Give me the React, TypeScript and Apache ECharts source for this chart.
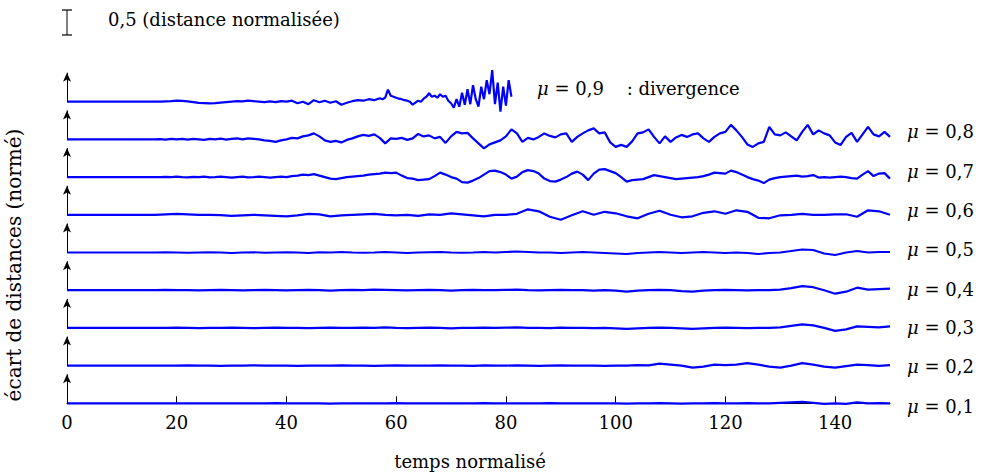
import React, { useEffect, useRef } from "react";
import * as echarts from "echarts";

// ---------- data (normalised distance, 1 unit = scale bar x2) ----------
const X_TICKS = [0, 20, 40, 60, 80, 100, 120, 140];
const X_MINOR_TICKS = [20, 40, 60, 80, 100, 120, 140];
const MU_LABELS = ["0,1", "0,2", "0,3", "0,4", "0,5", "0,6", "0,7", "0,8"];
const BASELINES = [0, 0.754, 1.508, 2.262, 3.016, 3.77, 4.524, 5.278, 6.032];
const SCALE_BAR_BOTTOM = 7.366;
const SCALE_BAR_LEN = 0.5;
const ARROW_LEN = 0.58;

// mu = 0,9 : t = 0..57 step 1, then explicit points (divergence)
const MU09_A = [
  0, 0, 0, 0, 0, 0, 0, 0, 0, 0, 0, 0, 0, 0, 0, 0, 0, 0,
  0.005, 0.01, 0.02, 0.015, 0.005, -0.01, -0.025, -0.03, -0.035, -0.03,
  -0.02, -0.01, 0.0, 0.01, 0.005, 0.02, 0.01, 0.0, -0.01, 0.005,
  -0.01, 0.01, 0.0, 0.02, -0.03, 0.0, -0.05, 0.03, -0.01, 0.02,
  -0.02, 0.01, -0.06, -0.02, 0.01, 0.03, 0.02, 0.05, 0.03, 0.07,
];
const MU09_B: [number, number][] = [
  [57.5, 0.05], [58, 0.08], [58.5, 0.24], [59, 0.12], [59.5, 0.1], [60, 0.08],
  [60.5, 0.06], [61, 0.05], [61.5, 0.03], [62, 0.02], [62.5, 0.0], [63, -0.06],
  [63.5, -0.02], [64, 0.02], [64.5, 0.0], [65, 0.06], [65.5, 0.1], [66, 0.17],
  [66.5, 0.1], [67, 0.12], [67.5, 0.08], [68, 0.15], [68.5, 0.1], [69, 0.12],
  [69.5, 0.02], [70, -0.03], [70.5, -0.12], [71, 0.05], [71.5, -0.1], [72, 0.18],
  [72.5, -0.06], [73, 0.25], [73.5, -0.05], [74, 0.33], [74.5, 0.05], [75, -0.1],
  [75.5, 0.3], [76, 0.05], [76.5, 0.43], [77, 0.15], [77.5, 0.63], [78, -0.05],
  [78.5, 0.38], [79, -0.2], [79.5, 0.3], [80, -0.08], [80.5, 0.43], [81, 0.1],
];

// t = 0..150 step 1
const MU08 = [
  0, 0, 0, 0, 0, 0, 0, 0, 0, 0, 0, 0, 0, 0, 0, 0, 0,
  0.005, -0.005, 0.01, 0.0, 0.01, -0.005, 0.01, 0.0, -0.01, 0.01, 0.0, 0.015,
  -0.005, 0.01, 0.02, 0.0, 0.02, 0.01, 0.0, -0.02, -0.03, -0.05, -0.02, 0.0,
  0.03, 0.02, 0.06, 0.08, 0.12, 0.06, -0.02, -0.05, -0.03, -0.06, -0.01, 0.02,
  0.06, 0.09, 0.07, 0.1, 0.03, -0.08, 0.02, 0.01, 0.03, -0.01, 0.02, 0.11,
  0.06, 0.08, 0.02, 0.05, -0.07, 0.06, 0.15, 0.12, 0.13, 0.02, -0.08, -0.18,
  -0.1, -0.06, -0.02, 0.06, 0.2, 0.12, -0.05, 0.03, 0.0, 0.05, 0.12, 0.07,
  0.04, 0.1, 0.12, -0.05, 0.05, 0.12, 0.18, 0.22, 0.12, 0.14, -0.06, -0.15,
  -0.11, -0.15, -0.04, 0.12, 0.14, 0.2, 0.05, -0.08, 0.06, -0.05, 0.04, 0.09,
  0.05, 0.1, 0.12, 0.02, -0.05, 0.05, 0.12, 0.15, 0.29, 0.18, 0.05, -0.1,
  -0.15, -0.08, -0.05, 0.25, 0.1, 0.08, 0.14, 0.06, -0.02, 0.15, 0.29, 0.1,
  0.18, 0.12, 0.08, -0.06, -0.11, 0.05, 0.13, -0.05, 0.1, 0.25, 0.1, 0.06,
  0.15, 0.05,
];

// t = 0..150 step 1
const MU07 = [
  0, 0, 0, 0, 0, 0, 0, 0, 0, 0, 0, 0, 0, 0, 0, 0, 0,
  0.0, 0.005, 0.0, 0.01, 0.0, -0.005, 0.005, 0.0, 0.01, -0.005, 0.0, 0.01,
  0.0, -0.01, 0.0, 0.01, -0.005, 0.0, 0.01, 0.0, -0.01, 0.0, 0.01, 0.0,
  0.02, 0.03, 0.05, 0.04, 0.06, 0.03, 0.0, -0.03, -0.04, -0.02, 0.0, 0.01,
  0.02, 0.03, 0.05, 0.06, 0.07, 0.09, 0.08, 0.09, 0.03, -0.02, -0.03, -0.06,
  -0.05, -0.04, 0.02, 0.09, 0.05, 0.0, -0.03, -0.1, -0.11, -0.07, -0.02, 0.05,
  0.12, 0.13, 0.1, 0.05, -0.03, 0.01, 0.1, 0.14, 0.12, 0.07, -0.03, -0.08,
  -0.09, -0.05, 0.0, 0.07, 0.11, 0.05, -0.06, 0.07, 0.15, 0.16, 0.12, 0.08,
  0.0, -0.09, -0.06, -0.05, -0.04, 0.0, 0.04, 0.02, 0.0, -0.02, -0.04, -0.03,
  -0.02, -0.01, 0.0, 0.02, 0.05, 0.09, 0.08, 0.07, 0.13, 0.1, 0.05, 0.0,
  -0.04, -0.07, -0.12, -0.05, -0.02, 0.0, 0.01, 0.02, 0.03, 0.01, 0.02, 0.04,
  -0.01, 0.0, -0.01, 0.0, 0.01, 0.0, -0.02, -0.03, 0.05, 0.12, 0.02, 0.07,
  0.08, -0.03,
];

// t = 0..150 step 2
const MU06 = [
  0, 0, 0, 0, 0, 0, 0, 0, 0, 0.01, 0.02, 0.01, 0.0, 0.0, -0.005, -0.02,
  -0.01, 0.0, -0.01, -0.02, -0.03, -0.01, 0.02, 0.01, -0.03, -0.01, 0.0, 0.01,
  0.02, 0.0, -0.01, 0.0, -0.02, 0.01, 0.0, 0.03, 0.01, -0.01, -0.03, 0.0,
  0.0, 0.02, 0.11, 0.07, -0.04, -0.1, -0.01, 0.07, 0.0, 0.06, 0.03, -0.03,
  -0.07, 0.02, 0.08, 0.0, -0.05, -0.03, 0.04, 0.07, 0.02, 0.09, 0.06, -0.06,
  -0.07, -0.01, 0.0, 0.02, 0.0, 0.0, 0.01, 0.01, -0.04, 0.09, 0.07, 0.0,
];
const MU05 = [
  0, 0, 0, 0, 0, 0, 0, 0, 0, 0.005, 0.0, -0.005, 0.0, 0.005, 0.0, -0.01,
  0.0, 0.005, -0.005, 0.0, 0.005, 0.0, -0.01, 0.005, 0.0, 0.01, 0.0, -0.005,
  0.0, 0.01, 0.0, -0.01, 0.0, 0.005, 0.01, 0.0, -0.005, 0.0, 0.01, 0.0,
  0.01, 0.02, 0.01, 0.0, 0.0, -0.01, 0.0, 0.01, 0.0, -0.01, -0.02, -0.03,
  -0.01, 0.0, 0.01, 0.0, -0.01, 0.0, 0.01, 0.0, -0.01, 0.0, -0.01, -0.03,
  -0.01, 0.0, 0.03, 0.06, 0.05, -0.02, -0.05, 0.0, 0.03, 0.0, 0.01, 0.01,
];
const MU04 = [
  0, 0, 0, 0, 0, 0, 0, 0, 0, 0.005, 0.0, 0.0, -0.005, 0.0, 0.005, 0.0,
  -0.005, 0.0, 0.005, 0.0, -0.005, 0.0, 0.005, 0.0, -0.01, 0.0, 0.005, 0.0,
  0.01, 0.005, 0.0, -0.005, 0.0, 0.005, 0.0, -0.01, 0.0, 0.005, 0.0, 0.0,
  0.005, 0.01, 0.0, -0.005, 0.0, 0.005, 0.0, 0.0, -0.01, 0.0, -0.01, -0.03,
  -0.01, 0.0, 0.005, 0.0, -0.02, -0.03, -0.01, 0.0, 0.005, 0.0, -0.005, 0.0,
  0.0, 0.01, 0.04, 0.08, 0.06, 0.0, -0.07, -0.03, 0.05, 0.01, 0.02, 0.03,
];
const MU03 = [
  0, 0, 0, 0, 0, 0, 0, 0, 0, 0.0, 0.005, 0.0, -0.005, 0.0, 0.0, 0.005,
  0.0, -0.005, 0.0, 0.005, 0.0, 0.0, -0.005, 0.0, 0.005, 0.0, 0.0, 0.005,
  0.0, 0.01, 0.0, -0.005, 0.0, 0.005, 0.0, -0.01, 0.0, 0.0, 0.005, 0.0,
  0.005, 0.01, 0.0, 0.0, -0.005, 0.005, 0.0, 0.0, -0.005, 0.0, -0.01, -0.02,
  -0.01, 0.0, 0.005, 0.0, -0.01, -0.02, -0.01, 0.0, 0.005, 0.0, -0.005, 0.0,
  0.0, 0.01, 0.04, 0.07, 0.05, 0.0, -0.06, -0.03, 0.03, 0.02, 0.01, 0.03,
];
const MU02 = [
  0, 0, 0, 0, 0, 0, 0, 0, 0, 0.0, 0.0, 0.005, 0.0, 0.0, -0.005, 0.0,
  0.0, 0.005, 0.0, 0.0, 0.0, -0.005, 0.0, 0.0, 0.0, 0.005, 0.0, 0.0,
  -0.005, 0.0, 0.005, 0.0, 0.0, 0.0, 0.005, 0.0, 0.0, -0.005, 0.005, 0.0,
  0.0, 0.005, 0.0, -0.005, 0.0, 0.005, 0.0, 0.0, 0.0, -0.005, 0.0, 0.0,
  0.01, 0.005, 0.04, 0.02, 0.0, -0.04, -0.02, 0.02, 0.01, 0.02, 0.05, 0.02,
  -0.02, -0.04, 0.0, 0.05, 0.02, -0.02, -0.04, -0.01, 0.02, 0.01, -0.005, 0.01,
];
const MU01 = [
  0, 0, 0, 0, 0, 0, 0, 0, 0, 0.0, 0.0, 0.0, 0.0, 0.0, 0.0, 0.0,
  0.0, 0.0, 0.0, 0.005, 0.0, 0.0, 0.0, 0.0, -0.005, 0.0, 0.0, 0.0,
  0.0, 0.0, 0.005, 0.0, 0.0, 0.0, 0.0, 0.0, 0.0, 0.0, 0.005, 0.0,
  0.0, 0.0, 0.0, 0.0, 0.005, 0.0, 0.0, 0.0, 0.0, 0.0, 0.0, -0.005,
  0.0, 0.0, 0.005, 0.0, -0.005, 0.0, 0.0, 0.005, 0.0, 0.0, 0.005, 0.0,
  0.0, 0.01, 0.02, 0.03, 0.01, -0.01, 0.0, -0.01, 0.02, 0.0, 0.005, 0.0,
];

const FONT = "DejaVu Serif";
const BLUE = "#0000ff";

function stepSeries(vals: number[], step: number, base: number): [number, number][] {
  return vals.map((v, i) => [i * step, base + v]);
}

export default function App() {
  const ref = useRef<HTMLDivElement>(null);
  useEffect(() => {
    if (!ref.current) return;
    const chart = echarts.init(ref.current, null, { renderer: "svg" });

    const traces: [number, number][][] = [
      stepSeries(MU01, 2, BASELINES[0]),
      stepSeries(MU02, 2, BASELINES[1]),
      stepSeries(MU03, 2, BASELINES[2]),
      stepSeries(MU04, 2, BASELINES[3]),
      stepSeries(MU05, 2, BASELINES[4]),
      stepSeries(MU06, 2, BASELINES[5]),
      stepSeries(MU07, 1, BASELINES[6]),
      stepSeries(MU08, 1, BASELINES[7]),
      [
        ...stepSeries(MU09_A, 1, BASELINES[8]),
        ...MU09_B.map(([t, v]) => [t, BASELINES[8] + v] as [number, number]),
      ],
    ];

    const series: any[] = traces.map((data, k) => ({
      type: "line",
      data,
      symbol: "none",
      silent: true,
      emphasis: { disabled: true },
      lineStyle: { color: BLUE, width: 2.2 },
      z: 3,
      markLine: {
        silent: true,
        symbol: ["none", "arrow"],
        symbolSize: [6, 9],
        label: { show: false },
        lineStyle: { color: "#000", width: 1, type: "solid" },
        emphasis: { disabled: true },
        data: [[{ coord: [0, BASELINES[k]] }, { coord: [0, BASELINES[k] + ARROW_LEN] }]],
      },
    }));

    // scale bar (I shape): vertical bar with rect caps as symbols
    const b0 = SCALE_BAR_BOTTOM;
    const b1 = SCALE_BAR_BOTTOM + SCALE_BAR_LEN;
    series.push({
      type: "line",
      data: [[0, b0], [0, b1]],
      symbol: "rect",
      symbolSize: [10, 1.2],
      showSymbol: true,
      silent: true,
      clip: false,
      emphasis: { disabled: true },
      itemStyle: { color: "#000" },
      lineStyle: { color: "#000", width: 1 },
    });

    const textStyle = (size: number) => ({ fontFamily: FONT, fontSize: size, fill: "#000" });
    const muLabelY = [406, 366, 327, 289, 249, 210, 171, 131];
    const graphic: any[] = [
      {
        type: "text",
        left: 108,
        top: 10,
        style: { ...textStyle(18), text: "0,5 (distance normalisée)" },
      },
      {
        type: "text",
        x: 537,
        y: 88,
        style: {
          ...textStyle(18),
          text: "{m|μ} = 0,9    : divergence",
          verticalAlign: "middle",
          rich: { m: { fontFamily: FONT, fontSize: 18, fontStyle: "italic" } },
        },
      },
      ...MU_LABELS.map((lab, i) => ({
        type: "text",
        x: 907,
        y: muLabelY[i],
        style: {
          ...textStyle(18),
          text: "{m|μ} = " + lab,
          verticalAlign: "middle",
          rich: { m: { fontFamily: FONT, fontSize: 18, fontStyle: "italic" } },
        },
      })),
      {
        type: "text",
        x: 470,
        y: 461,
        style: { ...textStyle(18), text: "temps normalisé", align: "center", verticalAlign: "middle" },
      },
      {
        type: "text",
        x: 14,
        y: 265,
        rotation: Math.PI / 2,
        style: { ...textStyle(20), text: "écart de distances (normé)", align: "center", verticalAlign: "middle" },
      },
    ];

    chart.setOption({
      animation: false,
      backgroundColor: "#fff",
      grid: { left: 67, right: 93, top: 3.3, bottom: 59.7, containLabel: false },
      xAxis: {
        type: "value",
        min: 0,
        max: 150,
        axisLine: { show: true, onZero: true, lineStyle: { color: "#000", width: 1 } },
        axisTick: {
          show: true,
          inside: true,
          length: 7,
          customValues: X_MINOR_TICKS,
          lineStyle: { color: "#000", width: 1 },
        },
        axisLabel: {
          customValues: X_TICKS,
          margin: 0,
          color: "#000",
          fontFamily: FONT,
          fontSize: 18,
        },
        splitLine: { show: false },
      },
      yAxis: {
        type: "value",
        min: -0.2,
        max: 8,
        show: false,
      },
      series,
      graphic,
    });
    return () => chart.dispose();
  }, []);
  return <div ref={ref} style={{ width: 983, height: 473, position: "absolute", left: 0, top: 0 }} />;
}
